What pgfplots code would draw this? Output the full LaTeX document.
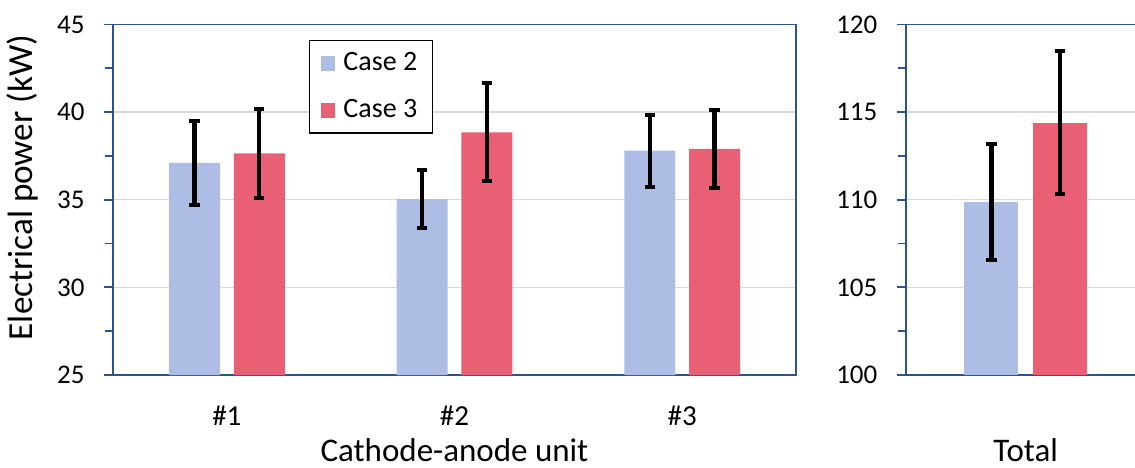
\documentclass[border=0pt]{standalone}
\usepackage{pgfplots}
\usepackage{pgfplotstable}
\pgfplotsset{compat=1.18}
\usepackage{fontspec}
\setmainfont{Carlito}

\definecolor{axisblue}{RGB}{41,84,140}
\definecolor{gridgray}{RGB}{217,217,217}
\definecolor{casetwo}{RGB}{174,189,228}
\definecolor{casethree}{RGB}{233,95,116}

% power of each cathode-anode unit: bar position, mean and error
% (units at x = 0, 1, 2; the two cases sit either side of each unit)
\pgfplotstableread{
x y err
-0.1417 37.11 2.41
0.8583 35.03 1.66
1.8583 37.80 2.05
}\unitcasetwo
\pgfplotstableread{
x y err
0.1425 37.65 2.53
1.1425 38.85 2.80
2.1425 37.91 2.24
}\unitcasethree
% total power
\pgfplotstableread{
x y err
-0.3435 109.89 3.32
}\totalcasetwo
\pgfplotstableread{
x y err
0.3435 114.40 4.10
}\totalcasethree

\pgfplotsset{
  panel/.style={
    scale only axis, height=175.25pt,
    ymajorgrids, major grid style={draw=gridgray, line width=0.7pt},
    axis line style={draw=axisblue, line width=0.9pt},
    tick align=outside, ytick pos=left,
    major tick length=4.5pt, minor tick length=4pt,
    every tick/.style={draw=axisblue, line width=0.9pt},
    minor y tick num=1,
    xtick style={draw=none},
    /pgf/number format/assume math mode=true,
    yticklabel style={anchor=east, inner sep=0pt, xshift=-9.5pt,
      font=\fontsize{13.5}{15}\selectfont},
    xticklabel style={anchor=base, inner sep=0pt, yshift=-20.5pt,
      font=\fontsize{14.5}{16}\selectfont},
    every axis x label/.style={anchor=base, inner sep=0pt, text depth=0pt,
      font=\fontsize{16.5}{19}\selectfont},
    every axis y label/.style={anchor=center, rotate=90, font=\fontsize{17.6}{20}\selectfont},
  },
  errstyle/.style={
    error bars/.cd, y dir=both, y explicit,
    error bar style={black, line width=2.2pt},
    error mark options={black, line width=2pt, mark size=2.6pt, rotate=90},
  },
}

\begin{document}
\begin{tikzpicture}
\path[use as bounding box] (0,0) rectangle (567.5pt,233.5pt);

\begin{axis}[panel,
  at={(56.5pt,46pt)}, anchor=south west,
  width=341.5pt,
  xmin=-0.5, xmax=2.5, ymin=25, ymax=45,
  xtick={0,1,2}, xticklabels={\#1,\#2,\#3},
  ytick={25,30,...,45},
  xlabel={Cathode-anode unit},
  ylabel={Electrical power (kW)},
  x label style={at={(axis description cs:0.5,-0.247)}},
  y label style={at={(axis description cs:-0.1322,0.535)}},
  legend image code/.code={\fill[#1] (0pt,-3.7pt) rectangle (7.4pt,3.7pt);},
  legend style={at={(axis description cs:0.287,0.956)}, anchor=north west,
    draw=black, line width=0.65pt, font=\fontsize{14}{16}\selectfont,
    inner xsep=5.5pt, inner ysep=4pt, row sep=9pt, column sep=2pt},
  legend cell align=left,
]
\addplot[ybar, bar width=25.5pt, bar shift=0pt, fill=casetwo, draw=none, errstyle]
  table[x=x, y=y, y error=err]{\unitcasetwo};
\addplot[ybar, bar width=25.5pt, bar shift=0pt, fill=casethree, draw=none, errstyle]
  table[x=x, y=y, y error=err]{\unitcasethree};
\legend{Case 2, Case 3}
\end{axis}

\begin{axis}[panel,
  at={(452.85pt,46pt)}, anchor=south west,
  width=114.65pt,
  axis x line*=box, axis y line*=left,
  xmin=-1.1995, xmax=1.0935, ymin=100, ymax=120,
  xtick=\empty,
  ytick={100,105,...,120},
  xlabel={Total},
  x label style={at={(axis description cs:0.523,-0.247)}},
]
\addplot[ybar, bar width=26.85pt, bar shift=0pt, fill=casetwo, draw=none, errstyle]
  table[x=x, y=y, y error=err]{\totalcasetwo};
\addplot[ybar, bar width=26.85pt, bar shift=0pt, fill=casethree, draw=none, errstyle]
  table[x=x, y=y, y error=err]{\totalcasethree};
\end{axis}
\end{tikzpicture}
\end{document}
